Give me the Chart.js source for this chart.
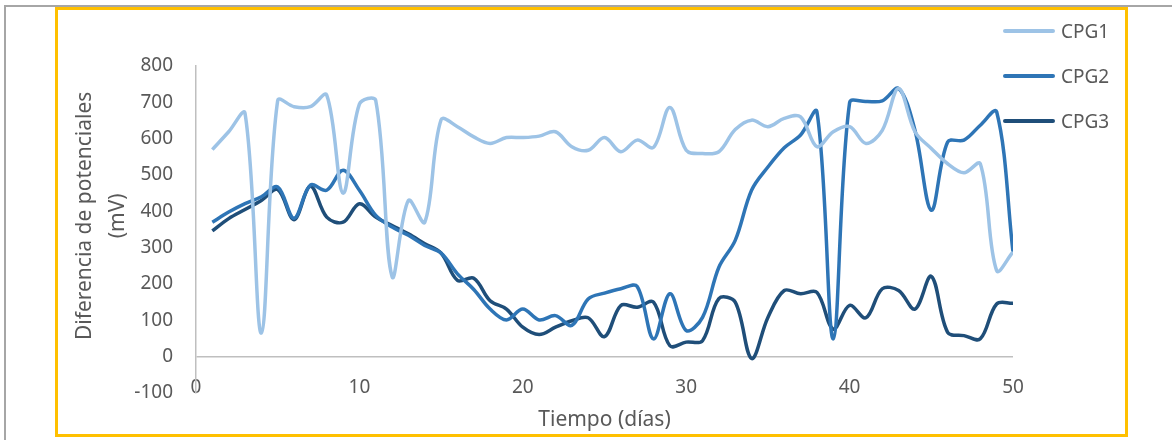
<!DOCTYPE html>
<html>
<head>
<meta charset="utf-8">
<script src="https://cdn.jsdelivr.net/npm/chart.js@4.4.1/dist/chart.umd.min.js"></script>
<style>
  body { margin: 0; background: #fff; overflow: hidden; width: 1172px; height: 440px; position: relative; font-family: 'Noto Sans', sans-serif; }
  .outer { position: absolute; left: 4px; top: 5px; width: 1300px; height: 600px; border: 2px solid #a6a6a6; }
  .frame { position: absolute; left: 55px; top: 7px; width: 1073px; height: 430px; border: 3px solid #ffc000; box-sizing: border-box; }
  #chartBox { position: absolute; left: 56px; top: 8px; }
  #legend { position: absolute; left: 1003px; top: 19px; }
  .legend-item { display: flex; align-items: center; height: 24px; margin-bottom: 21px; }
  .legend-line { width: 52px; height: 4px; border-radius: 2px; margin-right: 6px; }
  .legend-text { font-size: 19px; color: #595959; }
</style>
</head>
<body>
<div class="outer"></div>
<div class="frame"></div>
<div id="chartBox"><canvas id="cpgChart" width="1071" height="428"></canvas></div>
<div id="legend"></div>
<script>
    // datos
    const dias = [];
    for (let d = 1; d <= 50; d++) dias.push(d);

    const cpg1 = [570, 619, 670, 65, 705, 688, 688, 720, 450, 695,
                  705, 220, 430, 370, 652, 633, 605, 587, 603, 603,
                  607, 619, 578, 568, 603, 564, 596, 576, 686, 568,
                  559, 564, 625, 651, 633, 656, 660, 578, 619, 633,
                  587, 623, 738, 619, 573, 531, 506, 531, 237, 288];

    const cpg2 = [370, 398, 421, 440, 467, 381, 472, 458, 513, 458,
                  389, 357, 334, 306, 285, 228, 185, 131, 101, 131,
                  101, 113, 86, 159, 175, 187, 193, 49, 173, 72,
                  108, 246, 320, 458, 522, 575, 610, 674, 49, 699,
                  702, 704, 738, 623, 403, 591, 596, 637, 674, 288];

    const cpg3 = [346, 380, 405, 430, 460, 377, 469, 384, 370, 421,
                  384, 361, 338, 311, 285, 210, 216, 154, 131, 81,
                  61, 81, 99, 107, 55, 141, 136, 150, 30, 40,
                  44, 160, 150, -5, 108, 182, 173, 177, 76, 141,
                  107, 187, 182, 131, 221, 67, 58, 49, 145, 147];

    const yTicks = [-100, 0, 100, 200, 300, 400, 500, 600, 700, 800];
    const xTicks = [0, 10, 20, 30, 40, 50];

    const nombres = ['CPG1', 'CPG2', 'CPG3'];
    const colores = ['#9dc3e6', '#2e75b6', '#1f4e79'];

    Chart.defaults.font.family = "'Noto Sans', sans-serif";
    Chart.defaults.color = '#595959';

    const series = [cpg1, cpg2, cpg3];
    const datasets = series.map(function(s, i) {
        return {
            label: nombres[i],
            data: s,
            borderColor: colores[i],
            backgroundColor: colores[i],
            borderWidth: 3.5,
            pointRadius: 0,
            tension: 0.35,
            fill: false
        };
    });

    const config = {
        type: 'line',
        data: { labels: dias, datasets: datasets },
        options: {
            responsive: false,
            animation: false,
            layout: { padding: { left: 0, right: 114, top: 58, bottom: 0 } },
            plugins: {
                legend: { display: false },
                tooltip: { enabled: false }
            },
            scales: {
                x: {
                    type: 'linear',
                    min: 0,
                    max: 50,
                    afterBuildTicks: function(scale) {
                        scale.ticks = xTicks.map(v => ({ value: v }));
                    },
                    afterFit: function(scale) { scale.height = 43; },
                    grid: { display: false, drawTicks: false },
                    border: { display: false },
                    // etiquetas dentro del area, como en excel
                    ticks: { mirror: true, padding: -6, autoSkip: false, maxRotation: 0, font: { size: 19 }, color: '#595959' },
                    title: {
                        display: true,
                        text: 'Tiempo (días)',
                        font: { size: 21 },
                        color: '#595959',
                        padding: { top: 0, bottom: 3 }
                    }
                },
                y: {
                    min: -100,
                    max: 800,
                    afterBuildTicks: function(scale) {
                        scale.ticks = yTicks.map(v => ({ value: v }));
                    },
                    afterFit: function(scale) { scale.width = 140; },
                    grid: {
                        drawTicks: false,
                        lineWidth: 1.5,
                        color: function(ctx) {
                            return ctx.tick && ctx.tick.value === 0 ? '#bfbfbf' : 'rgba(0,0,0,0)';
                        }
                    },
                    border: { display: true, color: '#bfbfbf', width: 1.5 },
                    ticks: { padding: 23, font: { size: 19 }, color: '#595959' },
                    title: {
                        display: true,
                        text: ['\u00a0\u00a0\u00a0\u00a0\u00a0Diferencia de potenciales', '\u00a0\u00a0\u00a0\u00a0\u00a0(mV)'],
                        font: { size: 21, lineHeight: 1.6 },
                        color: '#595959',
                        padding: { top: 12, bottom: 0 }
                    }
                }
            }
        }
    };

    const cpgChart = new Chart(document.getElementById('cpgChart'), config);

    // leyenda en html (se superpone al area de trazado como en el original)
    const legendDiv = document.getElementById('legend');
    cpgChart.data.datasets.forEach(function(ds) {
        const item = document.createElement('div');
        item.className = 'legend-item';
        const line = document.createElement('span');
        line.className = 'legend-line';
        line.style.background = ds.borderColor;
        const txt = document.createElement('span');
        txt.className = 'legend-text';
        txt.textContent = ds.label;
        item.appendChild(line);
        item.appendChild(txt);
        legendDiv.appendChild(item);
    });
</script>
</body>
</html>
